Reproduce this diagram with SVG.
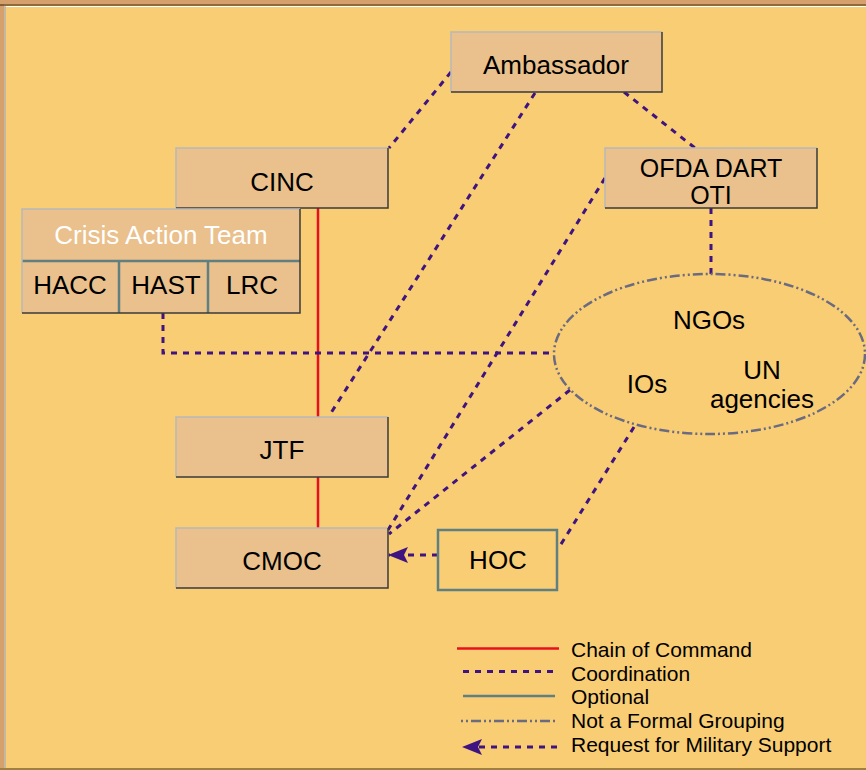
<svg xmlns="http://www.w3.org/2000/svg" width="866" height="770" viewBox="0 0 866 770">
<defs>
<style>
.box{fill:#EAC08C}
.hl{stroke:#B8B8B8;stroke-width:1.5;fill:none}
.sh{stroke:#3A3A3A;stroke-width:1.5;fill:none}
.t{font-family:"Liberation Sans",Arial,sans-serif;font-size:26px;fill:#000;text-anchor:middle}
.lg{font-family:"Liberation Sans",Arial,sans-serif;font-size:21px;fill:#000}
.coord{stroke:#3F1480;stroke-width:3;fill:none;stroke-dasharray:6 6}
.cmd{stroke:#E8101F;stroke-width:2.5;fill:none}
.opt{stroke:#5F7F80;stroke-width:2.5;fill:none}
.nfg{stroke:#6A6A80;stroke-width:2.5;fill:none;stroke-dasharray:10 3 2 3 2 3}
</style>
<marker id="arr" viewBox="0 0 20 16" refX="19" refY="8" markerWidth="20" markerHeight="16" markerUnits="userSpaceOnUse" orient="auto">
<path d="M0,0 L20,8 L0,16 L4,8 Z" fill="#3F1480"/>
</marker>
</defs>
<rect x="0" y="0" width="866" height="770" fill="#F9CD74"/>
<rect x="0" y="0" width="866" height="4" fill="#D6A06C"/>
<rect x="0" y="0" width="4" height="770" fill="#D6A06C"/>
<line x1="0" y1="5" x2="866" y2="5" stroke="#6B4A2A" stroke-width="1.5"/>
<line x1="4" y1="6.5" x2="866" y2="6.5" stroke="#FFFFFF" stroke-width="1"/>
<line x1="5" y1="6" x2="5" y2="770" stroke="#B0B0B0" stroke-width="1.5"/>
<line x1="0" y1="769" x2="866" y2="769" stroke="#A08040" stroke-width="2"/>

<g id="connectors">
<line class="cmd" x1="318" y1="208" x2="318" y2="417"/>
<line class="cmd" x1="318" y1="477" x2="318" y2="528"/>
<line class="coord" x1="451" y1="72" x2="389" y2="148"/>
<line class="coord" x1="535" y1="93" x2="329" y2="416"/>
<line class="coord" x1="624" y1="92" x2="695" y2="148"/>
<line class="coord" x1="711" y1="208" x2="711" y2="274"/>
<polyline class="coord" points="163,313 163,353 554,353"/>
<line class="coord" x1="605" y1="178" x2="388" y2="530"/>
<line class="coord" x1="570" y1="390" x2="389" y2="534"/>
<line class="coord" x1="634" y1="427" x2="558" y2="549"/>
<line class="coord" x1="438" y1="555" x2="389" y2="555" marker-end="url(#arr)"/>
</g>

<g id="ambassador">
<rect class="box" x="451" y="32" width="211" height="60"/>
<polyline class="hl" points="451,92 451,32 662,32"/>
<polyline class="sh" points="662,32 662,92 451,92"/>
<text class="t" x="556" y="74">Ambassador</text>
</g>

<g id="cinc">
<rect class="box" x="176" y="148" width="212" height="60"/>
<polyline class="hl" points="176,208 176,148 388,148"/>
<polyline class="sh" points="388,148 388,208 176,208"/>
<text class="t" x="282" y="191">CINC</text>
</g>

<g id="crisis-action-team">
<rect class="box" x="22" y="209" width="278" height="104"/>
<line class="opt" x1="22" y1="261" x2="300" y2="261"/>
<line class="opt" x1="119" y1="261" x2="119" y2="313"/>
<line class="opt" x1="208" y1="261" x2="208" y2="313"/>
<polyline class="hl" points="22,313 22,209 300,209"/>
<polyline class="sh" points="300,209 300,313 22,313"/>
<text class="t" x="161" y="244" style="fill:#FFFFFF">Crisis Action Team</text>
<text class="t" x="70" y="294">HACC</text>
<text class="t" x="166" y="294">HAST</text>
<text class="t" x="252" y="294">LRC</text>
</g>

<g id="ofda">
<rect class="box" x="605" y="148" width="212" height="60"/>
<polyline class="hl" points="605,208 605,148 817,148"/>
<polyline class="sh" points="817,148 817,208 605,208"/>
<text class="t" x="711" y="177" style="font-size:25px">OFDA DART</text>
<text class="t" x="711" y="204" style="font-size:25px">OTI</text>
</g>

<g id="ngo-group">
<ellipse class="nfg" cx="709.5" cy="354" rx="155.5" ry="80"/>
<text class="t" x="709" y="329">NGOs</text>
<text class="t" x="647" y="393">IOs</text>
<text class="t" x="762" y="379">UN</text>
<text class="t" x="762" y="408">agencies</text>
</g>

<g id="jtf">
<rect class="box" x="176" y="417" width="212" height="60"/>
<polyline class="hl" points="176,477 176,417 388,417"/>
<polyline class="sh" points="388,417 388,477 176,477"/>
<text class="t" x="282" y="459">JTF</text>
</g>

<g id="cmoc">
<rect class="box" x="176" y="528" width="212" height="60"/>
<polyline class="hl" points="176,588 176,528 388,528"/>
<polyline class="sh" points="388,528 388,588 176,588"/>
<text class="t" x="282" y="570">CMOC</text>
</g>

<g id="hoc">
<rect x="438" y="530" width="119" height="60" fill="none" stroke="#5F7F80" stroke-width="2.5"/>
<text class="t" x="498" y="569">HOC</text>
</g>

<g id="legend">
<line class="cmd" x1="457" y1="648.5" x2="559" y2="648.5"/>
<line class="coord" x1="463" y1="671.5" x2="557" y2="671.5"/>
<line class="opt" x1="463" y1="696" x2="555" y2="696"/>
<line class="nfg" x1="461" y1="721" x2="557" y2="721" style="stroke-dasharray:2 3 2 3 10 3"/>
<line class="coord" x1="557" y1="747" x2="463" y2="747" marker-end="url(#arr)"/>
<text class="lg" x="571" y="657">Chain of Command</text>
<text class="lg" x="571" y="681">Coordination</text>
<text class="lg" x="571" y="704">Optional</text>
<text class="lg" x="571" y="728">Not a Formal Grouping</text>
<text class="lg" x="571" y="752">Request for Military Support</text>
</g>
</svg>
